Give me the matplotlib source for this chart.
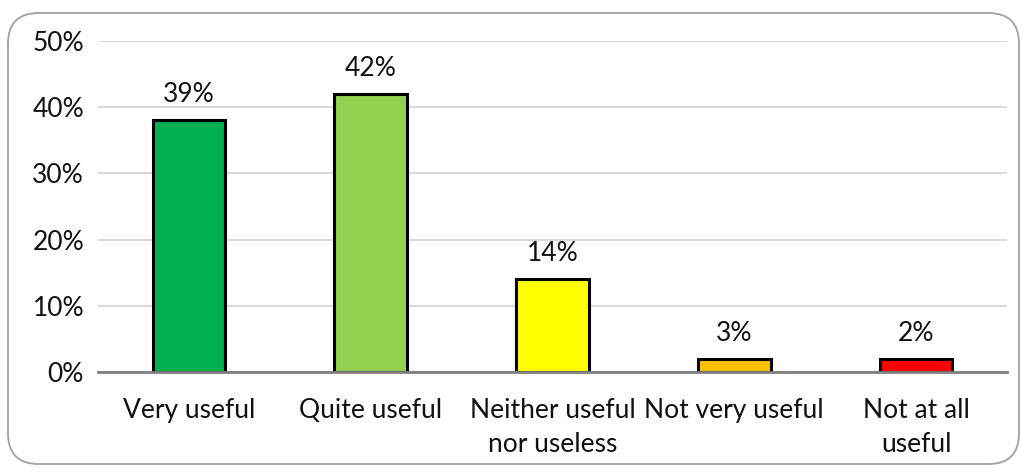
import matplotlib
matplotlib.use("Agg")
import matplotlib.pyplot as plt
from matplotlib.patches import FancyBboxPatch
from matplotlib.ticker import FuncFormatter, MultipleLocator

categories = ["Very useful", "Quite useful", "Neither useful\nnor useless", "Not very useful", "Not at all\nuseful"]
values = [38, 42, 14, 2, 2]
value_labels = ["39%", "42%", "14%", "3%", "2%"]
colors = ["#00B050", "#92D050", "#FFFF00", "#FFC000", "#FF0000"]

plt.rcParams['font.family'] = ['Lato', 'DejaVu Sans']

fig = plt.figure(figsize=(10.22, 4.73), dpi=100)
# rounded frame
frame = FancyBboxPatch((8/1022, 9/473), (1019-8)/1022, (463-12)/473,
                       boxstyle="round,pad=0,rounding_size=0.03",
                       transform=fig.transFigure, fill=False,
                       edgecolor="#a6a6a6", linewidth=1.4, mutation_aspect=1022/473)
fig.patches.append(frame)

ax = fig.add_axes([98/1022, 1 - 372/473, (1007-98)/1022, (372-41)/473])
x = list(range(len(categories)))
ax.bar(x, values, width=0.4, color=colors, edgecolor="black", linewidth=2.2, zorder=3)
for xi, v, lab in zip(x, values, value_labels):
    ax.annotate(lab, (xi, v), xytext=(0, 13), textcoords="offset points",
                ha="center", va="baseline", fontsize=19, color="#111111")

ax.set_xlim(-0.5, len(categories) - 0.5)
ax.set_ylim(0, 50)
ax.yaxis.set_major_locator(MultipleLocator(10))
ax.yaxis.set_major_formatter(FuncFormatter(lambda v, p: f"{int(v)}%"))
ax.grid(axis="y", color="#d9d9d9", linewidth=1.5, zorder=0)
ax.set_axisbelow(True)
for s in ["top", "right", "left"]:
    ax.spines[s].set_visible(False)
ax.spines["bottom"].set_color("#808080")
ax.spines["bottom"].set_linewidth(2)
ax.spines["bottom"].set_zorder(4)
ax.set_xticks(x)
ax.set_xticklabels(categories, fontsize=19, color="#111111", linespacing=1.45)
ax.tick_params(axis="x", length=0, pad=19)
ax.tick_params(axis="y", length=0, pad=10, labelsize=19, labelcolor="#111111")

fig.savefig("out.png", dpi=100)
